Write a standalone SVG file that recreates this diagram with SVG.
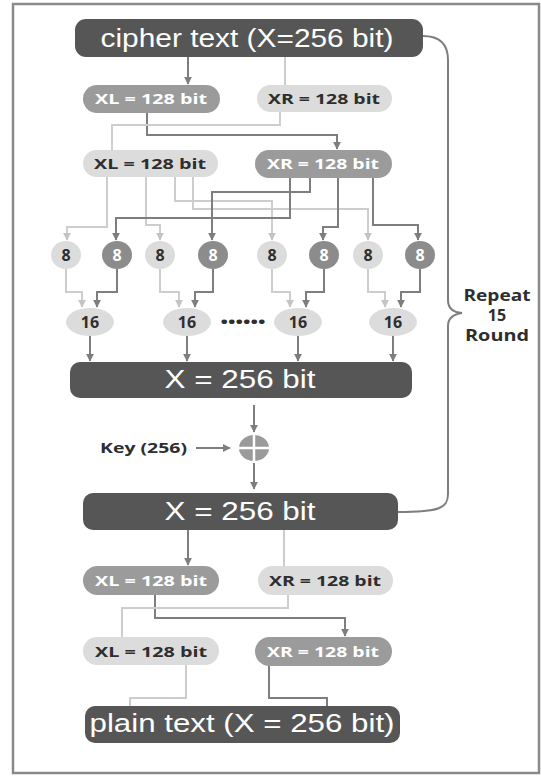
<svg xmlns="http://www.w3.org/2000/svg" width="541" height="776" viewBox="0 0 541 776">
<defs>
<style>
.dk{fill:#565656}
.md{fill:#9b9b9b}
.lt{fill:#dcdcdc}
.big{font-family:"Liberation Sans",Arial,sans-serif;font-size:25px;fill:#ffffff;text-anchor:middle}
.lbl{font-family:"Open Sans","DejaVu Sans",sans-serif;font-weight:bold;font-size:15px;text-anchor:middle}
.num{font-size:16px}
.w{fill:#ffffff}
.b{fill:#2e2e2e}
.cd{fill:none;stroke:#7e7e7e;stroke-width:2}
.cl{fill:none;stroke:#cdcdcd;stroke-width:2}
</style>
<marker id="ad" viewBox="0 0 10 10" refX="9" refY="5" markerWidth="4" markerHeight="4" orient="auto"><path d="M0,0 L10,5 L0,10 z" fill="#7e7e7e"/></marker>
<marker id="al" viewBox="0 0 10 10" refX="9" refY="5" markerWidth="4" markerHeight="4" orient="auto"><path d="M0,0 L10,5 L0,10 z" fill="#c4c4c4"/></marker>
</defs>
<rect x="13" y="4" width="526" height="769" fill="#ffffff" stroke="#8a8a8a" stroke-width="2.5"/>
<g id="connectors">
<path class="cd" d="M188,57 V84" marker-end="url(#ad)"/>
<path class="cl" d="M285,57 V85"/>
<path class="cd" d="M147,113 V135 H337 V149" marker-end="url(#ad)"/>
<path class="cl" d="M280,112 V125 H112 V150"/>
<path class="cl" d="M107,177 V227 H67 V240" marker-end="url(#al)"/>
<path class="cl" d="M146,177 V225 H160 V240" marker-end="url(#al)"/>
<path class="cl" d="M175,177 V201 H272 V240" marker-end="url(#al)"/>
<path class="cl" d="M193,177 V209 H368 V240" marker-end="url(#al)"/>
<path class="cd" d="M290,178 V218 H116 V240" marker-end="url(#ad)"/>
<path class="cd" d="M310,178 V192 H212 V240" marker-end="url(#ad)"/>
<path class="cd" d="M338,178 V227 H323 V240" marker-end="url(#ad)"/>
<path class="cd" d="M373,178 V225 H418 V240" marker-end="url(#ad)"/>
<path class="cl" d="M66,269 V292 H82 V307" marker-end="url(#al)"/>
<path class="cd" d="M117,269 V292 H97 V307" marker-end="url(#ad)"/>
<path class="cl" d="M160,269 V292 H179 V307" marker-end="url(#al)"/>
<path class="cd" d="M213,269 V292 H195 V307" marker-end="url(#ad)"/>
<path class="cl" d="M272,269 V292 H290 V307" marker-end="url(#al)"/>
<path class="cd" d="M324,269 V292 H306 V307" marker-end="url(#ad)"/>
<path class="cl" d="M368,269 V292 H385 V307" marker-end="url(#al)"/>
<path class="cd" d="M420,269 V292 H401 V307" marker-end="url(#ad)"/>
<path class="cd" d="M90,336 V361" marker-end="url(#ad)"/>
<path class="cd" d="M187,336 V361" marker-end="url(#ad)"/>
<path class="cd" d="M298,336 V361" marker-end="url(#ad)"/>
<path class="cd" d="M393,336 V361" marker-end="url(#ad)"/>
<path class="cd" d="M254,405 V432" marker-end="url(#ad)"/>
<path class="cd" d="M196,448 H230" stroke-width="1.5" marker-end="url(#ad)"/>
<path class="cd" d="M254,463 V489" marker-end="url(#ad)"/>
<path class="cd" d="M423,36 C440,36 448,45 448,60 V300 Q448,312 462,313 Q448,315 448,326 V494 C448,508 440,512 398,512"/>
<path class="cd" d="M188,530 V565" marker-end="url(#ad)"/>
<path class="cl" d="M284,530 V566"/>
<path class="cd" d="M155,595 V618 H345 V636" marker-end="url(#ad)"/>
<path class="cl" d="M288,595 V608 H122 V637"/>
<path class="cl" d="M186,665 V698 H130 V706"/>
<path class="cd" d="M269,666 V698 H327 V706"/>
</g>
<g id="cipher"><rect class="dk" x="75" y="19" width="348" height="38" rx="11"/><text class="big" x="247" y="47" textLength="293" lengthAdjust="spacingAndGlyphs">cipher text (X=256 bit)</text></g>
<g id="xl1"><rect class="md" x="83" y="85" width="137" height="28" rx="14"/><text class="lbl w" x="151" y="104" textLength="112" lengthAdjust="spacingAndGlyphs">XL = 128 bit</text></g>
<g id="xr1"><rect class="lt" x="257" y="85" width="135" height="27" rx="13.5"/><text class="lbl b" x="324" y="104" textLength="112" lengthAdjust="spacingAndGlyphs">XR = 128 bit</text></g>
<g id="xl2"><rect class="lt" x="83" y="150" width="135" height="27" rx="13.5"/><text class="lbl b" x="150" y="169" textLength="112" lengthAdjust="spacingAndGlyphs">XL = 128 bit</text></g>
<g id="xr2"><rect class="md" x="255" y="150" width="137" height="28" rx="14"/><text class="lbl w" x="323" y="169" textLength="112" lengthAdjust="spacingAndGlyphs">XR = 128 bit</text></g>
<g id="c1"><ellipse class="lt" cx="66" cy="255" rx="15" ry="14"/><text class="lbl num b" x="66" y="261">8</text></g>
<g id="c2"><ellipse cx="117" cy="255" rx="15" ry="14" fill="#8c8c8c"/><text class="lbl num w" x="117" y="261">8</text></g>
<g id="c3"><ellipse class="lt" cx="160" cy="255" rx="15" ry="14"/><text class="lbl num b" x="160" y="261">8</text></g>
<g id="c4"><ellipse cx="213" cy="255" rx="15" ry="14" fill="#8c8c8c"/><text class="lbl num w" x="213" y="261">8</text></g>
<g id="c5"><ellipse class="lt" cx="272" cy="255" rx="15" ry="14"/><text class="lbl num b" x="272" y="261">8</text></g>
<g id="c6"><ellipse cx="324" cy="255" rx="15" ry="14" fill="#8c8c8c"/><text class="lbl num w" x="324" y="261">8</text></g>
<g id="c7"><ellipse class="lt" cx="368" cy="255" rx="15" ry="14"/><text class="lbl num b" x="368" y="261">8</text></g>
<g id="c8"><ellipse cx="420" cy="255" rx="15" ry="14" fill="#8c8c8c"/><text class="lbl num w" x="420" y="261">8</text></g>
<g id="s1"><ellipse class="lt" cx="90" cy="322" rx="24" ry="14"/><text class="lbl num b" x="90" y="328">16</text></g>
<g id="s2"><ellipse class="lt" cx="187" cy="322" rx="24" ry="14"/><text class="lbl num b" x="187" y="328">16</text></g>
<g id="dots"><text class="lbl b" x="243" y="327" textLength="45" lengthAdjust="spacingAndGlyphs">••••••</text></g>
<g id="s3"><ellipse class="lt" cx="298" cy="322" rx="24" ry="14"/><text class="lbl num b" x="298" y="328">16</text></g>
<g id="s4"><ellipse class="lt" cx="393" cy="322" rx="24" ry="14"/><text class="lbl num b" x="393" y="328">16</text></g>
<g id="x1"><rect class="dk" x="70" y="362" width="342" height="36" rx="10"/><text class="big" x="240" y="388" font-size="26" textLength="151" lengthAdjust="spacingAndGlyphs">X = 256 bit</text></g>
<g id="key"><text class="lbl b" x="100" y="453" style="text-anchor:start" textLength="87" lengthAdjust="spacingAndGlyphs">Key (256)</text></g>
<g id="xor"><ellipse cx="254" cy="448" rx="15" ry="13" fill="#9a9a9a"/><path d="M239,448 H269 M254,435 V461" stroke="#ffffff" stroke-width="2.5"/></g>
<g id="x2"><rect class="dk" x="83" y="493" width="315" height="37" rx="10"/><text class="big" x="240" y="520" font-size="26" textLength="151" lengthAdjust="spacingAndGlyphs">X = 256 bit</text></g>
<g id="repeat"><text class="lbl num b" x="497" y="301" textLength="67" lengthAdjust="spacingAndGlyphs">Repeat</text><text class="lbl num b" x="497" y="321">15</text><text class="lbl num b" x="497" y="341" textLength="64" lengthAdjust="spacingAndGlyphs">Round</text></g>
<g id="xl3"><rect class="md" x="83" y="566" width="136" height="29" rx="14.5"/><text class="lbl w" x="151" y="586" textLength="112" lengthAdjust="spacingAndGlyphs">XL = 128 bit</text></g>
<g id="xr3"><rect class="lt" x="258" y="566" width="135" height="29" rx="14.5"/><text class="lbl b" x="325" y="586" textLength="112" lengthAdjust="spacingAndGlyphs">XR = 128 bit</text></g>
<g id="xl4"><rect class="lt" x="83" y="637" width="136" height="28" rx="14"/><text class="lbl b" x="151" y="657" textLength="112" lengthAdjust="spacingAndGlyphs">XL = 128 bit</text></g>
<g id="xr4"><rect class="md" x="255" y="637" width="137" height="29" rx="14.5"/><text class="lbl w" x="323" y="657" textLength="112" lengthAdjust="spacingAndGlyphs">XR = 128 bit</text></g>
<g id="plain"><rect class="dk" x="85" y="706" width="315" height="37" rx="10"/><text class="big" x="242" y="732" textLength="305" lengthAdjust="spacingAndGlyphs">plain text (X = 256 bit)</text></g>
</svg>
